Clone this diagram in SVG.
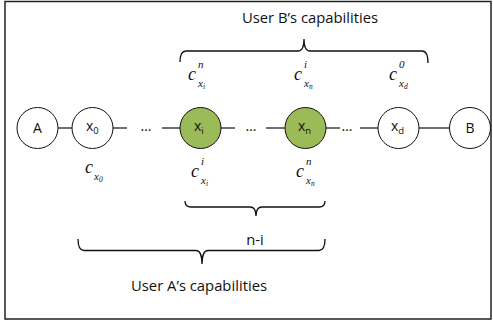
<svg xmlns="http://www.w3.org/2000/svg" width="493" height="324" viewBox="0 0 493 324">
<style>
.frame{fill:#fff;stroke:#222;stroke-width:1.5}
.node{fill:#fff;stroke:#111;stroke-width:1}
.hl{fill:#9bbb59}
.lbl{font-family:"Open Sans","Liberation Sans",sans-serif;font-size:14px;fill:#111}
.sub{font-size:9.5px}
.edge{stroke:#111;stroke-width:1.2;fill:none}
.brace{stroke:#111;stroke-width:1.3;fill:none}
.m{font-style:italic;fill:#111}
.mc{font-size:18px}
.ms{font-size:11px}
.mss{font-size:7.5px}
.txt{font-family:"Open Sans","Liberation Sans",sans-serif;font-size:14.8px;fill:#111}
</style>
<rect class="frame" x="5" y="1.5" width="486" height="317.5"/>
<g id="connectors">
<line class="edge" x1="58" y1="128" x2="72" y2="128"/>
<line class="edge" x1="113" y1="128" x2="127" y2="128"/>
<line class="edge" x1="162" y1="128" x2="180" y2="128"/>
<line class="edge" x1="221" y1="128" x2="235" y2="128"/>
<line class="edge" x1="266" y1="128" x2="285" y2="128"/>
<line class="edge" x1="326" y1="128" x2="340" y2="128"/>
<line class="edge" x1="360" y1="128" x2="378" y2="128"/>
<line class="edge" x1="419" y1="128" x2="449.5" y2="128"/>
<text class="lbl" x="146" y="131" text-anchor="middle">…</text>
<text class="lbl" x="251" y="131" text-anchor="middle">…</text>
<text class="lbl" x="347" y="131" text-anchor="middle">…</text>
</g>
<g id="nodeA"><circle class="node" cx="37.5" cy="128" r="20.5"/><text class="lbl" x="37.5" y="133" text-anchor="middle">A</text></g>
<g id="nodeX0"><circle class="node" cx="92.5" cy="128" r="20.5"/><text class="lbl" x="86" y="131">x<tspan class="sub" dy="3">0</tspan></text></g>
<g id="nodeXi"><circle class="node hl" cx="200.5" cy="128" r="20.5"/><text class="lbl" x="194" y="131">x<tspan class="sub" dy="3">i</tspan></text></g>
<g id="nodeXn"><circle class="node hl" cx="305.5" cy="128" r="20.5"/><text class="lbl" x="298" y="131">x<tspan class="sub" dy="3">n</tspan></text></g>
<g id="nodeXd"><circle class="node" cx="398.5" cy="128" r="20.5"/><text class="lbl" x="391" y="131">x<tspan class="sub" dy="3">d</tspan></text></g>
<g id="nodeB"><circle class="node" cx="470" cy="128" r="20.5"/><text class="lbl" x="470" y="133" text-anchor="middle">B</text></g>
<g id="braces">
<path class="brace" d="M180,62 Q180,51 186,51 L298,51 Q304,51 304,39 Q304,51 310,51 L422,51 Q428,51 428,63"/>
<path class="brace" d="M185,201 Q185,207 191,207 L250,207 Q256,207 256,216 Q256,207 262,207 L319,207 Q325,207 325,201"/>
<path class="brace" d="M78,239 Q78,250.5 84,250.5 L196,250.5 Q202,250.5 202,264 Q202,250.5 208,250.5 L319,250.5 Q325,250.5 325,239"/>
</g>
<g id="labels">
<text class="txt" x="310" y="23" text-anchor="middle">User B’s capabilities</text>
<text class="txt" x="255" y="245" text-anchor="middle">n-i</text>
<text class="txt" x="199" y="291" text-anchor="middle">User A’s capabilities</text>
<g font-family="'Liberation Serif','DejaVu Serif',serif">
<text class="m"><tspan class="mc" x="188" y="80">c</tspan><tspan class="ms" x="198" y="68">n</tspan><tspan class="ms" x="198" y="87">x</tspan><tspan class="mss" x="203" y="89">i</tspan></text>
<text class="m"><tspan class="mc" x="294" y="80">c</tspan><tspan class="ms" x="304" y="68">i</tspan><tspan class="ms" x="304" y="87">x</tspan><tspan class="mss" x="309" y="89">n</tspan></text>
<text class="m"><tspan class="mc" x="389" y="80">c</tspan><tspan class="ms" x="399" y="68">0</tspan><tspan class="ms" x="399" y="87">x</tspan><tspan class="mss" x="404" y="89">d</tspan></text>
<text class="m"><tspan class="mc" x="85" y="173">c</tspan><tspan class="ms" x="94" y="180">x</tspan><tspan class="mss" x="99" y="182">0</tspan></text>
<text class="m"><tspan class="mc" x="191" y="177">c</tspan><tspan class="ms" x="201" y="165">i</tspan><tspan class="ms" x="201" y="184">x</tspan><tspan class="mss" x="206" y="186">i</tspan></text>
<text class="m"><tspan class="mc" x="296" y="177">c</tspan><tspan class="ms" x="306" y="165">n</tspan><tspan class="ms" x="306" y="184">x</tspan><tspan class="mss" x="311" y="186">n</tspan></text>
</g>
</g>
</svg>
